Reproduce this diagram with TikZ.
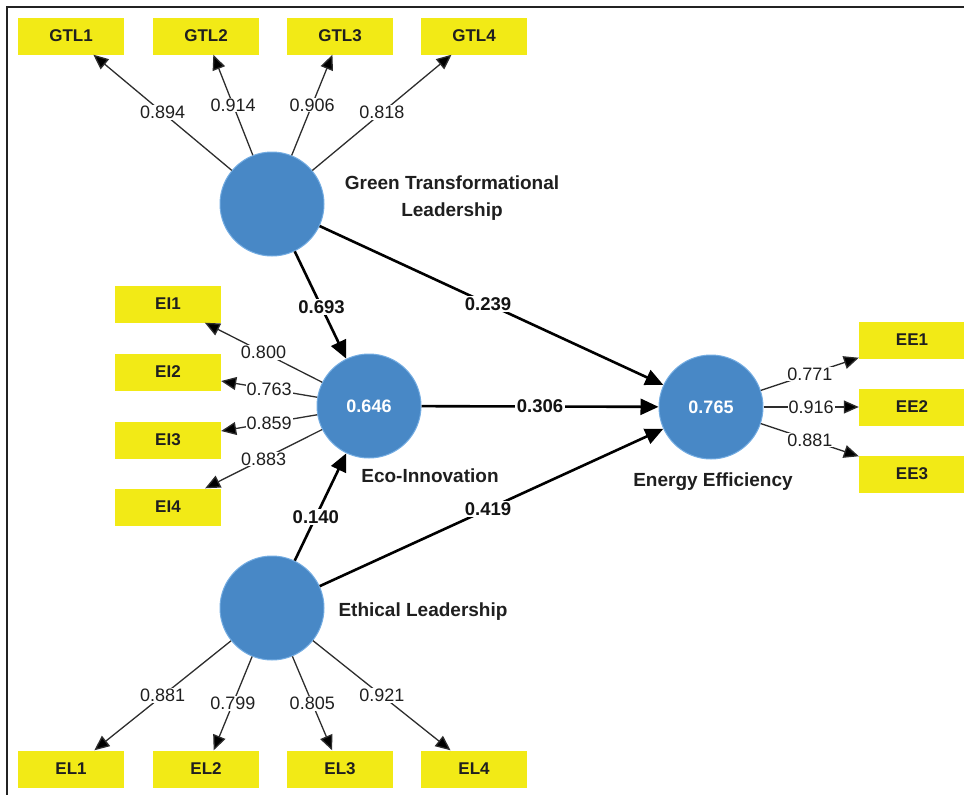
\documentclass[tikz,border=0pt]{standalone}
\usepackage{fontspec}
\setmainfont{Liberation Sans}
\usetikzlibrary{arrows.meta}
\definecolor{lvblue}{RGB}{72,136,198}
\definecolor{lvedge}{RGB}{115,172,226}
\definecolor{mvyellow}{RGB}{242,234,22}
\definecolor{thinline}{RGB}{45,45,45}
\definecolor{frameline}{RGB}{35,35,35}
\begin{document}
\begin{tikzpicture}[x=1pt,y=-1pt,
  lv/.style={circle,fill=lvblue,draw=lvedge,line width=1pt,minimum size=104pt,inner sep=0pt,text=white,font=\fontsize{18}{20}\selectfont\bfseries},
  mv/.style={fill=mvyellow,minimum width=106pt,minimum height=37pt,inner sep=0pt,text=black!88,font=\fontsize{17}{20}\selectfont\bfseries},
  lvname/.style={font=\fontsize{19}{27}\selectfont\bfseries,align=center,text=black!88},
  load/.style={draw=thinline,line width=1.3pt,-{Triangle[length=15pt,width=13pt,fill=black]}},
  struct/.style={draw=black,line width=2.6pt,-{Triangle[length=18pt,width=16pt]}},
  lbl/.style={fill=white,inner sep=1pt,text=black!88,font=\fontsize{18}{20}\selectfont},
  slbl/.style={fill=white,inner sep=1.5pt,text=black!92,font=\fontsize{18.5}{20}\selectfont\bfseries}
]
\useasboundingbox (0,0) rectangle (964,795);
% frame (top and left edges)
\coordinate (fa) at (964,7);
\coordinate (fb) at (7,7);
\coordinate (fc) at (7,795);
\draw[frameline,line width=1.6pt] (fa) -- (fb) -- (fc);

% latent variables
\node[lv] (gtl) at (272,204) {};
\node[lv] (ei) at (369,406) {0.646};
\node[lv] (ee) at (711,407) {0.765};
\node[lv] (el) at (272,608) {};

% latent names
\node[lvname] (gtlname) at (452,198) {Green Transformational\\Leadership};
\node[lvname] (einame) at (430,476) {Eco-Innovation};
\node[lvname] (eename) at (713,482) {Energy Efficiency};
\node[lvname] (elname) at (423,612) {Ethical Leadership};

% indicators
\node[mv] (gtl1) at (71,36) {GTL1};
\node[mv] (gtl2) at (206,36) {GTL2};
\node[mv] (gtl3) at (340,36) {GTL3};
\node[mv] (gtl4) at (474,36) {GTL4};
\node[mv] (ei1) at (168,304) {EI1};
\node[mv] (ei2) at (168,372) {EI2};
\node[mv] (ei3) at (168,440) {EI3};
\node[mv] (ei4) at (168,507) {EI4};
\node[mv] (ee1) at (912,340) {EE1};
\node[mv] (ee2) at (912,407) {EE2};
\node[mv] (ee3) at (912,474) {EE3};
\node[mv] (el1) at (71,769) {EL1};
\node[mv] (el2) at (206,769) {EL2};
\node[mv] (el3) at (340,769) {EL3};
\node[mv] (el4) at (474,769) {EL4};

% outer loadings
\draw[load] (gtl) -- node[lbl]{0.894} (gtl1);
\draw[load] (gtl) -- node[lbl]{0.914} (gtl2);
\draw[load] (gtl) -- node[lbl]{0.906} (gtl3);
\draw[load] (gtl) -- node[lbl]{0.818} (gtl4);
\draw[load] (ei) -- node[lbl]{0.800} (ei1);
\draw[load] (ei) -- node[lbl]{0.763} (ei2);
\draw[load] (ei) -- node[lbl]{0.859} (ei3);
\draw[load] (ei) -- node[lbl]{0.883} (ei4);
\draw[load] (ee) -- node[lbl]{0.771} (ee1);
\draw[load] (ee) -- node[lbl]{0.916} (ee2);
\draw[load] (ee) -- node[lbl]{0.881} (ee3);
\draw[load] (el) -- node[lbl]{0.881} (el1);
\draw[load] (el) -- node[lbl]{0.799} (el2);
\draw[load] (el) -- node[lbl]{0.805} (el3);
\draw[load] (el) -- node[lbl]{0.921} (el4);

% structural paths
\draw[struct] (gtl) -- node[slbl,pos=0.52]{0.693} (ei);
\draw[struct] (gtl) -- node[slbl,pos=0.49]{0.239} (ee);
\draw[struct] (ei) -- node[slbl,pos=0.5]{0.306} (ee);
\draw[struct] (el) -- node[slbl,pos=0.41]{0.140} (ei);
\draw[struct] (el) -- node[slbl,pos=0.49]{0.419} (ee);
\end{tikzpicture}
\end{document}
